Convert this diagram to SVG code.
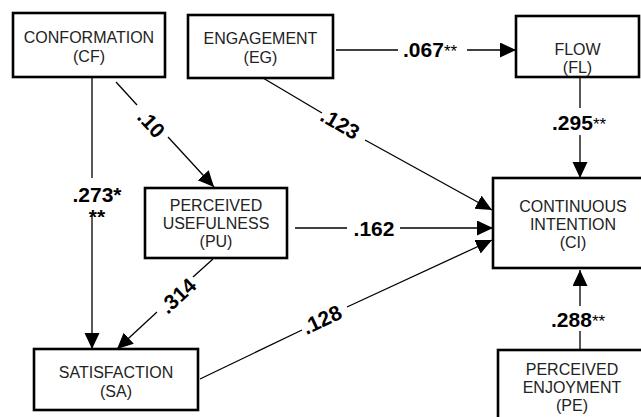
<svg xmlns="http://www.w3.org/2000/svg" width="641" height="417" viewBox="0 0 641 417">
<style>
.box{fill:#fff;stroke:#000;stroke-width:2.6}
.nt{font-family:"Liberation Sans",Arial,sans-serif;font-size:16px;text-anchor:middle;fill:#222}
.el{font-family:"Liberation Sans",Arial,sans-serif;font-size:21px;font-weight:bold;fill:#000}
.st{font-weight:normal;font-size:17px}
.ln{stroke:#000;stroke-width:1.3;fill:none}
</style>
<defs>
<marker id="ah" markerUnits="userSpaceOnUse" markerWidth="17" markerHeight="16" refX="16" refY="7.5" orient="auto">
<path d="M0,0 L16,7.5 L0,15 z" fill="#000"/>
</marker>
<clipPath id="cs"><rect x="70" y="200" width="60" height="17"/></clipPath>
</defs>
<rect width="641" height="417" fill="#fff"/>
<g id="connectors">
<line class="ln" x1="92" y1="77" x2="92" y2="178"/>
<line class="ln" x1="92" y1="215" x2="92" y2="349" marker-end="url(#ah)"/>
<text class="el" x="97" y="202" text-anchor="middle">.273*</text>
<text class="el" x="97" y="224" text-anchor="middle" clip-path="url(#cs)">**</text>

<line class="ln" x1="116" y1="82" x2="137" y2="105"/>
<line class="ln" x1="168" y1="137" x2="214" y2="187" marker-end="url(#ah)"/>
<text class="el" text-anchor="middle" transform="translate(151,124) rotate(47)" y="7">.10</text>

<line class="ln" x1="263" y1="78" x2="322" y2="113"/>
<line class="ln" x1="365" y1="140" x2="492" y2="210" marker-end="url(#ah)"/>
<text class="el" text-anchor="middle" transform="translate(340,124) rotate(30)" y="7">.123</text>

<line class="ln" x1="336" y1="50" x2="398" y2="50"/>
<line class="ln" x1="467" y1="50" x2="516" y2="50" marker-end="url(#ah)"/>
<text class="el" x="403" y="57">.067<tspan class="st">**</tspan></text>

<line class="ln" x1="580" y1="77" x2="580" y2="108"/>
<line class="ln" x1="580" y1="135" x2="580" y2="178" marker-end="url(#ah)"/>
<text class="el" x="552" y="130">.295<tspan class="st">**</tspan></text>

<line class="ln" x1="295" y1="228" x2="347" y2="228"/>
<line class="ln" x1="400" y1="228" x2="493" y2="228" marker-end="url(#ah)"/>
<text class="el" x="374" y="236" text-anchor="middle">.162</text>

<line class="ln" x1="213" y1="259" x2="193" y2="277"/>
<line class="ln" x1="157" y1="312" x2="117" y2="349" marker-end="url(#ah)"/>
<text class="el" text-anchor="middle" transform="translate(178,296) rotate(-43)" y="7">.314</text>

<line class="ln" x1="200" y1="379" x2="302" y2="330"/>
<line class="ln" x1="347" y1="307" x2="492" y2="240" marker-end="url(#ah)"/>
<text class="el" text-anchor="middle" transform="translate(322,320) rotate(-25.2)" y="7">.128</text>

<line class="ln" x1="580" y1="350" x2="580" y2="331"/>
<line class="ln" x1="580" y1="306" x2="580" y2="270" marker-end="url(#ah)"/>
<text class="el" x="551" y="327">.288<tspan class="st">**</tspan></text>
</g>
<g id="CF">
<rect class="box" x="13" y="13" width="152" height="64"/>
<text class="nt" x="89" y="42.5">CONFORMATION</text>
<text class="nt" x="89" y="61.5">(CF)</text>
</g>
<g id="EG">
<rect class="box" x="188" y="15" width="145" height="63"/>
<text class="nt" x="260.5" y="43.5">ENGAGEMENT</text>
<text class="nt" x="260.5" y="62.5">(EG)</text>
</g>
<g id="FL">
<rect class="box" x="516" y="16" width="123" height="61"/>
<text class="nt" x="577.5" y="55">FLOW</text>
<text class="nt" x="577.5" y="73">(FL)</text>
</g>
<g id="PU">
<rect class="box" x="145" y="188" width="142" height="70"/>
<text class="nt" x="216" y="211">PERCEIVED</text>
<text class="nt" x="216" y="229">USEFULNESS</text>
<text class="nt" x="216" y="247">(PU)</text>
</g>
<g id="CI">
<rect class="box" x="493" y="178" width="162" height="90"/>
<text class="nt" x="573" y="212">CONTINUOUS</text>
<text class="nt" x="573" y="230">INTENTION</text>
<text class="nt" x="573" y="248">(CI)</text>
</g>
<g id="SA">
<rect class="box" x="34" y="349" width="164" height="61"/>
<text class="nt" x="116" y="378">SATISFACTION</text>
<text class="nt" x="116" y="397">(SA)</text>
</g>
<g id="PE">
<rect class="box" x="498" y="350" width="150" height="80"/>
<text class="nt" x="572" y="375">PERCEIVED</text>
<text class="nt" x="572" y="393">ENJOYMENT</text>
<text class="nt" x="572" y="411">(PE)</text>
</g>
</svg>
